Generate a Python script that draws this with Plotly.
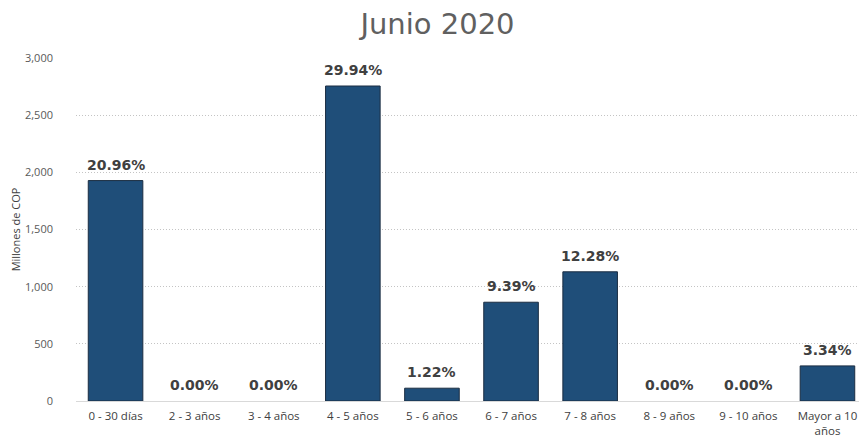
import plotly.graph_objects as go

categories = ["0 - 30 días", "2 - 3 años", "3 - 4 años", "4 - 5 años", "5 - 6 años",
              "6 - 7 años", "7 - 8 años", "8 - 9 años", "9 - 10 años", "Mayor a 10<br>años"]
values = [1928, 0, 0, 2755, 112, 864, 1130, 0, 0, 307]
pct_labels = ["20.96%", "0.00%", "0.00%", "29.94%", "1.22%", "9.39%", "12.28%", "0.00%", "0.00%", "3.34%"]
y_ticks = [0, 500, 1000, 1500, 2000, 2500, 3000]

fig = go.Figure(go.Bar(
    x=categories, y=values,
    marker=dict(color="#1F4E79", line=dict(color="#1b2d42", width=[1 if v > 0 else 0 for v in values])),
    width=0.69,
))

for cat, val, lab in zip(categories, values, pct_labels):
    fig.add_annotation(x=cat, y=val, text=lab, showarrow=False, yanchor="bottom", yshift=6,
                       font=dict(family="DejaVu Sans", size=14, color="#404040", weight="bold"))

# the page body adds an 8px offset, so the figure is sized to fit the window
fig.update_layout(
    width=859, height=431,
    margin=dict(l=68, r=0, t=50, b=38),
    paper_bgcolor="white", plot_bgcolor="white",
    title=dict(text="Junio 2020", x=0.5, xanchor="center", y=1 - 16 / 431, yanchor="middle",
               yref="container", font=dict(family="DejaVu Sans", size=29, color="#606060")),
    showlegend=False,
    xaxis=dict(type="category", automargin=False,
               tickfont=dict(family="Open Sans", size=11.5, color="#404040"),
               showline=True, linecolor="#d9d9d9", linewidth=1, ticks="", showgrid=False,
               ticklabelstandoff=4),
    yaxis=dict(range=[0, 3000], tickvals=y_ticks, tickformat=",", automargin=False,
               tickfont=dict(family="Open Sans", size=11, color="#595959"),
               showgrid=True, gridcolor="#c4c4c4", griddash="1px,2px", gridwidth=1,
               zeroline=False, showline=False, ticks="", ticklabelstandoff=22,
               title=dict(text="Millones de COP", font=dict(family="Open Sans", size=11, color="#404040"),
                          standoff=12)),
)

fig.write_html("out.html")
